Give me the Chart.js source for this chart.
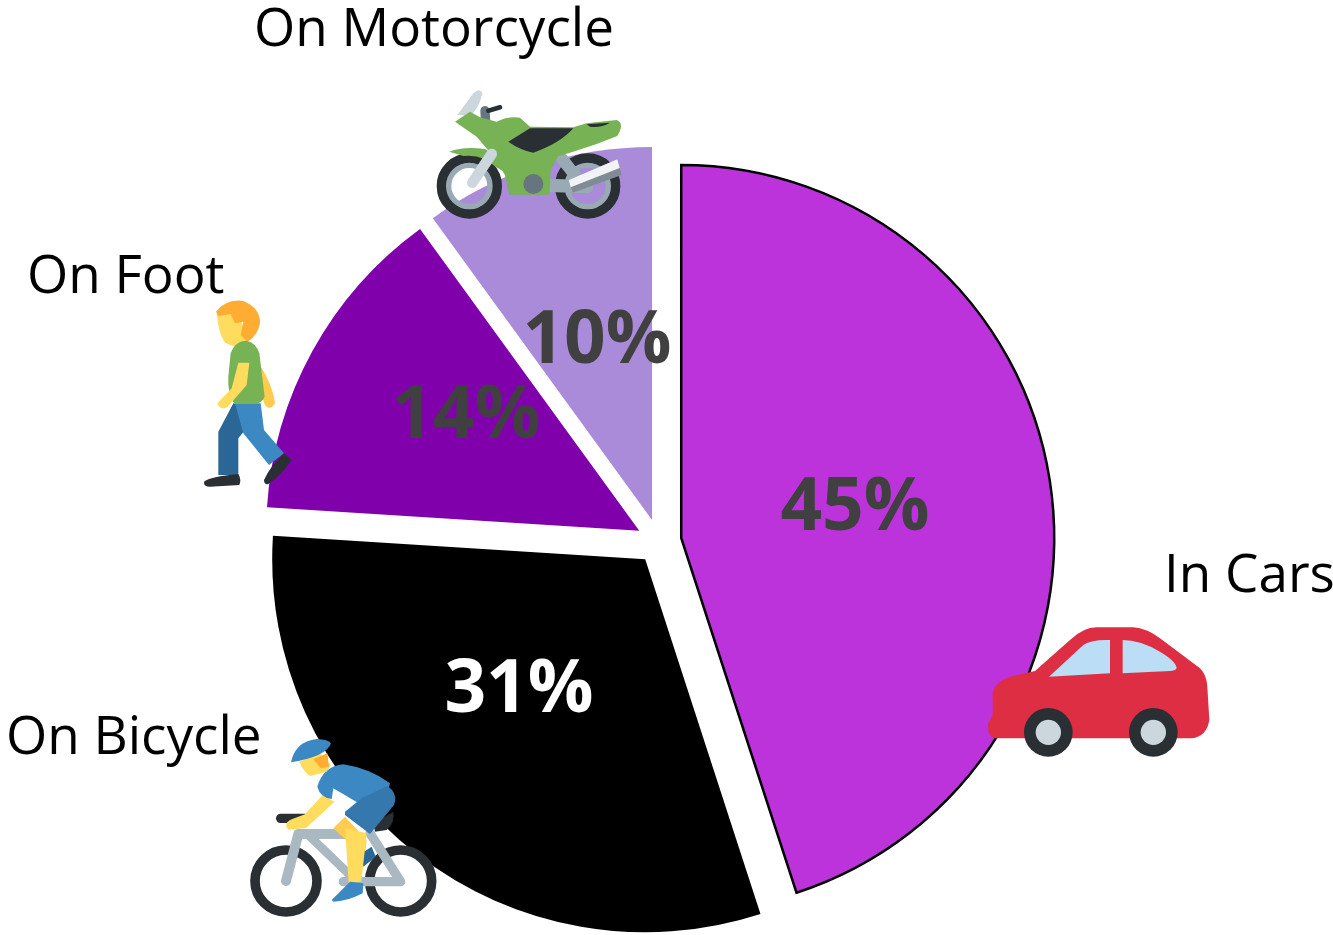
<!DOCTYPE html>
<html lang="en">
<head>
    <meta charset="UTF-8" />
    <title>How people travel</title>
    <script src="https://cdn.jsdelivr.net/npm/chart.js"></script>
    <style>
        html, body { margin: 0; background: #fff; }
        canvas { display: block; }
    </style>
</head>
<body>
    <canvas id="travelChart" width="1333" height="935"></canvas>

    <script>
        const categories = ["In Cars", "On Bicycle", "On Foot", "On Motorcycle"];
        const shareValues = [45, 31, 14, 10];
        const sliceColors = ["#BC33DB", "#000000", "#8000AC", "#A98BD9"];
        const sliceBorders = [2.5, 0, 0, 0];
        const percentColors = ["#404040", "#FFFFFF", "#404040", "#404040"];

        // where the texts sit on the page, same order as categories
        const percentSpots = [[855, 509], [519, 691], [466, 417], [597, 342]];
        const nameSpots = [[1164, 592], [6, 754], [27, 293], [254, 46]];

        const sliceGap = 22.5; // how far every slice is pulled out of the middle

        const circle = (x, y, r) => `M${x - r},${y} a${r},${r} 0 1,0 ${2 * r},0 a${r},${r} 0 1,0 ${-2 * r},0`;

        // icons are written in the coordinates of a 3x crop, see drawIcon
        const carIcon = {
            origin: [970, 610],
            parts: [
                ["fill", "#DD2E44", "M55,340 L68,315 L68,250 Q75,215 120,200 L195,183 L300,90 Q340,52 380,52 L490,52 Q530,55 570,85 L690,175 Q710,195 712,230 L718,330 Q710,380 665,385 L75,385 Q50,380 55,340 Z"],
                ["fill", "#BBDDF5", "M237,200 L340,105 Q365,88 420,90 L420,190 Z"],
                ["fill", "#BBDDF5", "M458,90 Q510,90 570,125 Q620,155 620,175 Q615,183 600,183 L458,190 Z"],
                ["fill", "#292F33", circle(235, 367, 73)],
                ["fill", "#292F33", circle(550, 367, 73)],
                ["fill", "#CCD6DD", circle(235, 367, 38)],
                ["fill", "#CCD6DD", circle(550, 367, 38)]
            ]
        };

        const bikeIcon = {
            origin: [230, 700],
            parts: [
                ["stroke", "#292F33", 29, circle(168, 543, 93)],
                ["stroke", "#292F33", 29, circle(512, 543, 93)],
                ["stroke", "#292F33", 28, "M152,355 L225,355"],
                ["fill", "#292F33", "M430,370 L490,335 Q495,370 470,390 L435,395 Z"],
                ["stroke", "#AAB8C2", 30, "M168,543 L205,402 L345,402"],
                ["stroke", "#AAB8C2", 26, "M240,410 L365,530"],
                ["stroke", "#AAB8C2", 28, "M340,545 L512,545 L420,400"],
                ["fill", "#FFCC4D", "M310,385 L345,350 L410,420 L405,460 L380,450 Z"],
                ["fill", "#2A6797", "M395,460 L425,440 L437,470 L400,500 Z"],
                ["fill", "#FFDC5D", "M345,385 L410,400 L394,545 L356,550 Z"],
                ["fill", "#3B88C3", "M305,600 Q340,565 360,545 L400,550 L398,580 Q350,605 310,605 Z"],
                ["fill", "#FFDC5D", "M278,285 L314,305 L228,384 L175,389 Q158,370 185,358 L225,343 Z"],
                ["fill", "#3B88C3", "M262,260 Q280,198 340,193 Q420,205 480,250 L470,290 L395,315 L310,265 L305,297 Q270,292 262,260 Z"],
                ["fill", "#3578AE", "M345,335 L395,295 L472,258 Q505,280 492,315 L420,402 L345,345 Z"],
                ["fill", "#FFDC5D", "M208,185 L270,160 L302,195 L290,215 L240,228 Q220,215 208,185 Z"],
                ["fill", "#FFAC33", "M250,178 L292,160 L297,200 L272,205 Z"],
                ["fill", "#3B88C3", "M183,187 Q195,125 260,117 Q295,118 303,130 Q290,170 183,187 Z"]
            ]
        };

        const walkerIcon = {
            origin: [190, 290],
            parts: [
                ["fill", "#FFCC4D", "M210,225 Q250,290 255,340 Q240,365 225,345 L205,290 Z"],
                ["fill", "#2A6797", "M130,340 L155,345 L165,420 L145,445 L145,555 L85,555 L85,425 Z"],
                ["fill", "#3B88C3", "M135,340 L212,340 L222,420 L282,490 L237,525 L160,430 Z"],
                ["fill", "#292F33", "M42,575 Q60,560 145,552 Q155,570 148,585 L60,590 Q40,590 42,575 Z"],
                ["fill", "#292F33", "M222,570 Q240,530 282,490 L305,510 Q270,560 235,582 Q222,585 222,570 Z"],
                ["fill", "#FFDC5D", "M80,70 L145,60 L170,150 L165,175 L120,165 L105,158 Q85,130 80,70 Z"],
                ["fill", "#FFAC33", "M78,65 Q110,25 160,33 Q212,55 210,100 Q202,140 172,155 L152,135 L160,95 L135,100 L122,72 L85,78 Z"],
                ["fill", "#77B255", "M122,190 Q135,152 170,152 Q198,158 208,190 L224,320 Q215,342 190,342 L135,342 Q113,320 115,260 Z"],
                ["fill", "#FFDC5D", "M145,218 L178,218 L170,285 L112,352 Q90,362 82,340 L125,295 Z"]
            ]
        };

        const motoIcon = {
            origin: [420, 80],
            parts: [
                ["stroke", "#292F33", 30, circle(148, 318, 83)],
                ["stroke", "#292F33", 30, circle(503, 318, 83)],
                ["stroke", "#99AAB5", 16, circle(148, 318, 62)],
                ["stroke", "#99AAB5", 16, circle(503, 318, 62)],
                ["fill", "#CCD6DD", "M112,105 L160,40 Q180,22 187,40 Q178,85 150,108 Z"],
                ["stroke", "#66757F", 28, "M195,92 L197,128"],
                ["stroke", "#292F33", 14, "M205,92 L240,82"],
                ["stroke", "#99AAB5", 36, "M425,235 L480,305"],
                ["stroke", "#99AAB5", 40, "M385,316 L500,320"],
                ["fill", "#77B255", "M105,125 L150,95 L180,112 L230,125 Q265,108 300,113 L330,140 L460,142 L500,130 L590,120 Q615,130 592,168 L530,192 L450,218 L415,228 L392,270 L388,344 L268,344 L255,285 L225,235 L170,170 Z"],
                ["fill", "#77B255", "M88,215 Q130,198 195,207 L240,235 L268,295 Q250,270 228,262 Q190,222 130,228 Z"],
                ["fill", "#292F33", "M265,185 L330,145 L460,145 Q420,190 340,218 Q300,210 265,185 Z"],
                ["fill", "#292F33", "M500,133 L570,128 Q540,145 510,140 Z"],
                ["stroke", "#CCD6DD", 32, "M215,222 L157,308"],
                ["fill", "#66757F", circle(340, 312, 30)],
                ["fill", "#808C95", "M446,300 L592,238 L605,285 L458,338 Z"],
                ["fill", "#F1F4F6", "M446,300 L592,238 L599,264 L452,322 Z"]
            ]
        };

        function drawIcon(ctx, icon) {
            ctx.save();
            ctx.translate(icon.origin[0], icon.origin[1]);
            ctx.scale(1 / 3, 1 / 3);
            ctx.lineCap = "round";
            ctx.lineJoin = "round";
            icon.parts.forEach(part => {
                if (part[0] === "fill") {
                    ctx.fillStyle = part[1];
                    ctx.fill(new Path2D(part[2]));
                } else {
                    ctx.strokeStyle = part[1];
                    ctx.lineWidth = part[2];
                    ctx.stroke(new Path2D(part[3]));
                }
            });
            ctx.restore();
        }

        // the built-in offset option also changes the radius of each slice,
        // so move the arcs along their middle angle here instead
        const explodePlugin = {
            id: "explode",
            afterDatasetUpdate(chart) {
                chart.getDatasetMeta(0).data.forEach(arc => {
                    const mid = (arc.startAngle + arc.endAngle) / 2;
                    arc.x += Math.cos(mid) * sliceGap;
                    arc.y += Math.sin(mid) * sliceGap;
                });
            }
        };

        const textPlugin = {
            id: "texts",
            afterDatasetsDraw(chart) {
                const ctx = chart.ctx;
                ctx.save();
                ctx.textBaseline = "middle";
                ctx.textAlign = "center";
                ctx.font = 'bold 73px "Open Sans"';
                shareValues.forEach((value, i) => {
                    ctx.fillStyle = percentColors[i];
                    ctx.fillText(value + "%", percentSpots[i][0], percentSpots[i][1]);
                });
                ctx.textBaseline = "alphabetic";
                ctx.textAlign = "left";
                ctx.font = '53px "Open Sans"';
                ctx.fillStyle = "#000000";
                categories.forEach((name, i) => {
                    ctx.fillText(name, nameSpots[i][0], nameSpots[i][1]);
                });
                ctx.restore();
                [carIcon, bikeIcon, walkerIcon, motoIcon].forEach(icon => drawIcon(ctx, icon));
            }
        };

        new Chart(document.getElementById("travelChart").getContext("2d"), {
            type: "pie",
            data: {
                labels: categories,
                datasets: [{
                    data: shareValues,
                    backgroundColor: sliceColors,
                    borderColor: "#000000",
                    borderWidth: sliceBorders,
                    borderJoinStyle: "miter"
                }]
            },
            options: {
                responsive: false,
                animation: false,
                events: [],
                radius: 373,
                layout: { padding: { top: 148, right: 15 } },
                plugins: {
                    legend: { display: false },
                    tooltip: { enabled: false }
                }
            },
            plugins: [explodePlugin, textPlugin]
        });
    </script>
</body>
</html>
